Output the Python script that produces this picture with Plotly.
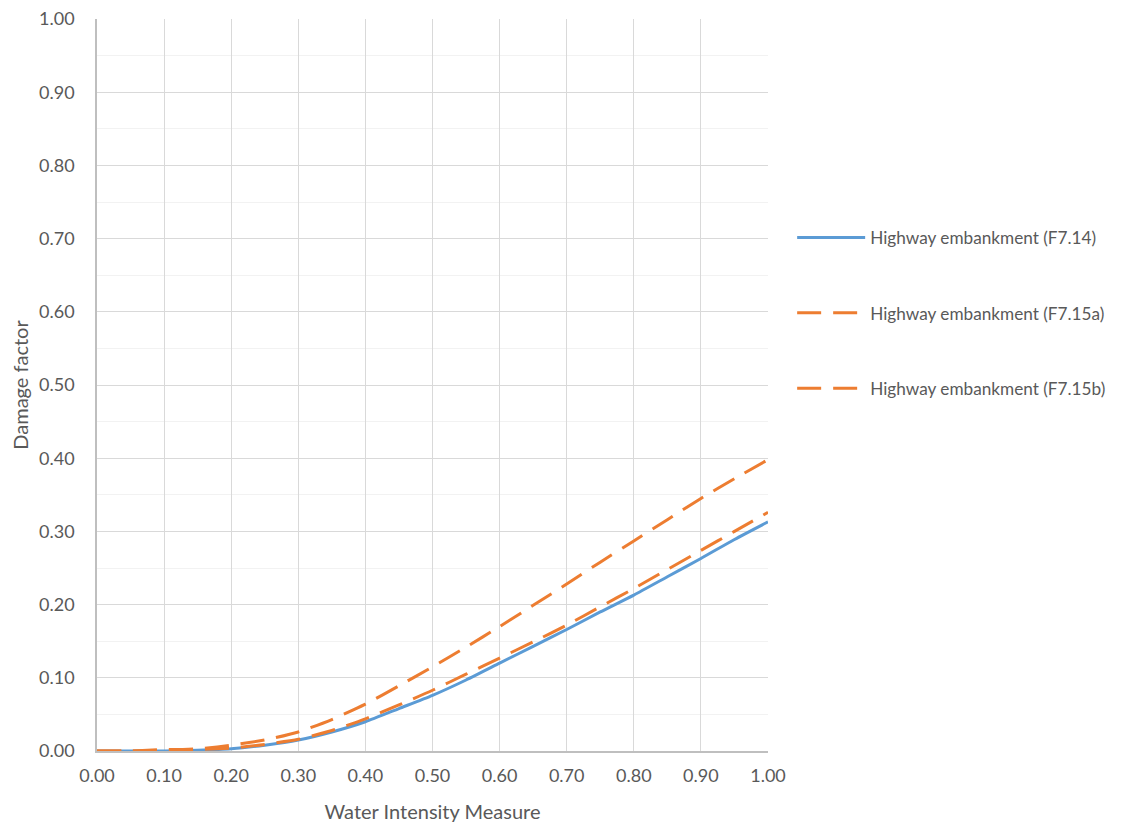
import plotly.graph_objects as go

x_vals = [0.00, 0.05, 0.10, 0.15, 0.20, 0.25, 0.30, 0.35, 0.40, 0.45, 0.50,
          0.55, 0.60, 0.65, 0.70, 0.75, 0.80, 0.85, 0.90, 0.95, 1.00]
f714 = [0, 0, 0, 0.001, 0.003, 0.008, 0.015, 0.026, 0.040, 0.058, 0.076,
        0.097, 0.120, 0.143, 0.166, 0.190, 0.213, 0.238, 0.263, 0.289, 0.313]
f715a = [0, 0, 0.001, 0.003, 0.008, 0.015, 0.026, 0.043, 0.064, 0.089, 0.115,
         0.142, 0.170, 0.199, 0.228, 0.258, 0.287, 0.316, 0.345, 0.372, 0.398]
f715b = [0, 0, 0.002, 0.002, 0.004, 0.009, 0.016, 0.028, 0.044, 0.063, 0.083,
         0.105, 0.127, 0.149, 0.172, 0.197, 0.222, 0.248, 0.274, 0.300, 0.326]
names = ["Highway embankment (F7.14)", "Highway embankment (F7.15a)", "Highway embankment (F7.15b)"]
tick_vals = [i / 10 for i in range(11)]
tick_text = [f"{v:.2f}" for v in tick_vals]

BLUE = "#5B9BD5"
ORANGE = "#ED7D31"
FONT = "Lato"

fig = go.Figure()
fig.add_trace(go.Scatter(x=x_vals, y=f714, mode="lines", name=names[0], legendgroup="a",
                         line=dict(color=BLUE, width=3, shape="spline", smoothing=0.6)))
fig.add_trace(go.Scatter(x=x_vals, y=f715a, mode="lines", name=names[1], legendgroup="b",
                         line=dict(color=ORANGE, width=3, dash="24px,12px", shape="spline", smoothing=0.6)))
fig.add_trace(go.Scatter(x=x_vals, y=f715b, mode="lines", name=names[2], legendgroup="c",
                         line=dict(color=ORANGE, width=3, dash="24px,12px", shape="spline", smoothing=0.6)))

fig.update_layout(
    width=1147, height=823,
    margin=dict(l=89, r=387, t=11, b=80),
    paper_bgcolor="white", plot_bgcolor="white",
    font=dict(family=FONT, size=18, color="#595959"),
    showlegend=True,
    legend=dict(x=1.036, xanchor="left", y=0.598, yanchor="middle",
                tracegroupgap=50, itemwidth=68,
                font=dict(family=FONT, size=17.2, color="#595959")),
    xaxis=dict(range=[0, 1.0], tickvals=tick_vals, ticktext=tick_text,
               showgrid=True, gridcolor="#d9d9d9", gridwidth=1.2,
               showline=True, linecolor="#bfbfbf", linewidth=1.5,
               zeroline=False, ticks="", ticklabelstandoff=8, ticklabeloverflow="allow",
               automargin=False,
               tickfont=dict(size=18, color="#595959"),
               title=dict(text="Water Intensity Measure", font=dict(size=20, color="#595959"), standoff=20)),
    yaxis=dict(range=[0, 1.0], tickvals=tick_vals, ticktext=tick_text,
               showgrid=True, gridcolor="#d9d9d9", gridwidth=1.2,
               minor=dict(dtick=0.05, showgrid=True, gridcolor="#f2f2f2", gridwidth=1.2),
               showline=True, linecolor="#bfbfbf", linewidth=1.5,
               zeroline=False, ticks="", ticklabelstandoff=17, ticklabeloverflow="allow",
               automargin=False,
               tickfont=dict(size=18, color="#595959"),
               title=dict(text="Damage factor", font=dict(size=20, color="#595959"), standoff=6)),
)

fig.write_html("out.html")
